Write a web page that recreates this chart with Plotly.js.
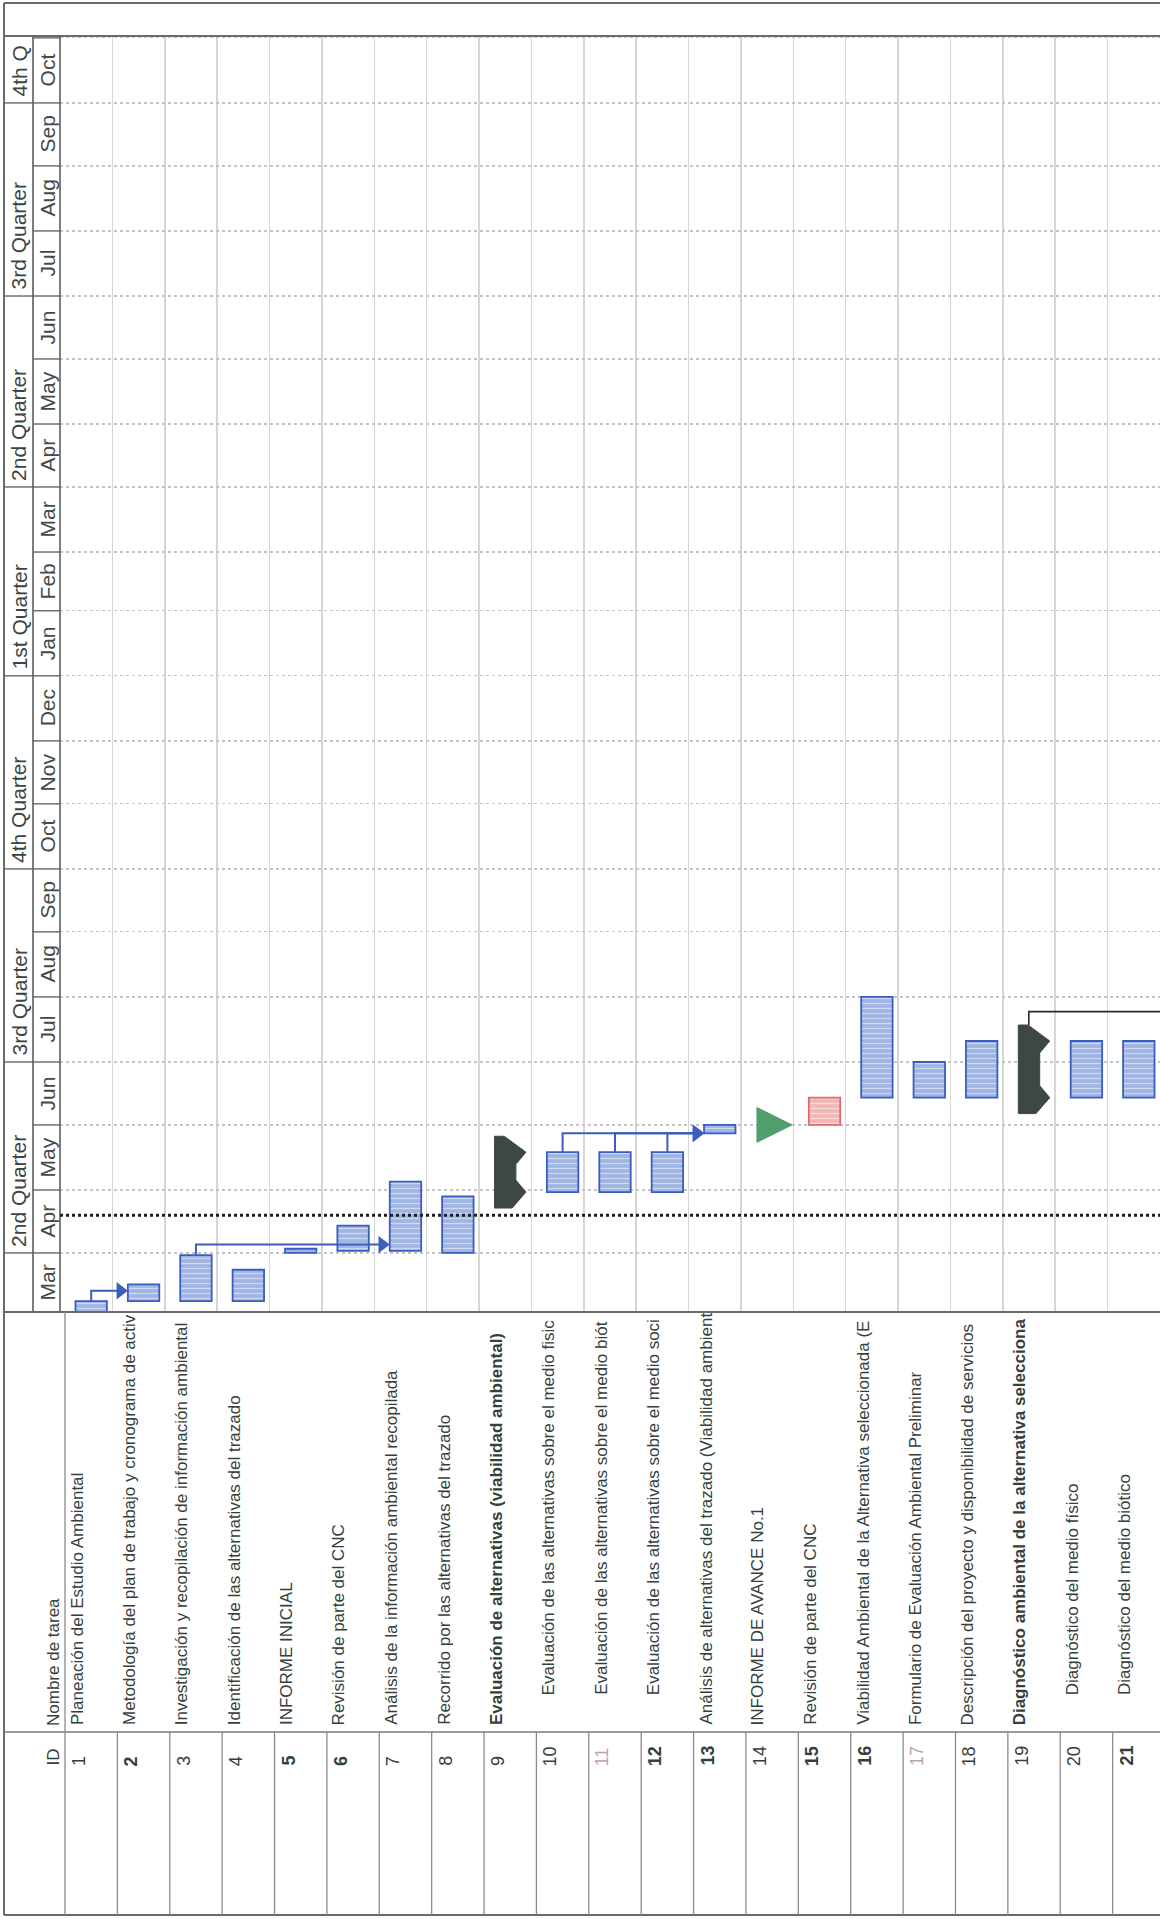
<!DOCTYPE html>
<html>
<head>
<meta charset="utf-8">
<script src="https://cdn.plot.ly/plotly-3.0.1.min.js"></script>
<style>
html,body{margin:0;padding:0;background:#ffffff;}
#chart{width:1160px;height:1919px;}
</style>
</head>
<body>
<div id="chart"></div>
<script>
// ---------------- DATA ----------------
const taskIds = [1,2,3,4,5,6,7,8,9,10,11,12,13,14,15,16,17,18,19,20,21];
const taskNames = [
  "Planeación del Estudio Ambiental",
  "Metodología del plan de trabajo y cronograma de activ",
  "Investigación y recopilación de información ambiental",
  "Identificación de las alternativas del trazado",
  "INFORME INICIAL",
  "Revisión de parte del CNC",
  "Análisis de la información ambiental recopilada",
  "Recorrido por las alternativas del trazado",
  "Evaluación de alternativas (viabilidad ambiental)",
  "Evaluación de las alternativas sobre el medio fisic",
  "Evaluación de las alternativas sobre el medio biót",
  "Evaluación de las alternativas sobre el medio soci",
  "Análisis de alternativas del trazado (Viabilidad ambient",
  "INFORME DE AVANCE No.1",
  "Revisión de parte del CNC",
  "Viabilidad Ambiental de la Alternativa seleccionada (E",
  "Formulario de Evaluación Ambiental Preliminar",
  "Descripción del proyecto y disponibilidad de servicios",
  "Diagnóstico ambiental de la alternativa selecciona",
  "Diagnóstico del medio físico",
  "Diagnóstico del medio biótico"
];
const taskIndent = [0,0,0,0,0,0,0,0,0,1,1,1,0,0,0,0,0,0,0,1,1];
const taskKind = ["task","task","task","task","task","task","task","task","summary",
                  "task","task","task","task","milestone","critical","task","task","task",
                  "summary","task","task"];
const taskStart = ["2014-03-01","2014-03-09","2014-03-09","2014-03-09","2014-04-01","2014-04-02",
                   "2014-04-02","2014-04-01","2014-04-30","2014-04-30","2014-04-30","2014-04-30",
                   "2014-05-28","2014-06-01","2014-06-01","2014-06-14","2014-06-14","2014-06-14",
                   "2014-06-14","2014-06-14","2014-06-14"];
const taskEnd   = ["2014-03-09","2014-03-17","2014-03-31","2014-03-24","2014-04-03","2014-04-14",
                   "2014-05-05","2014-04-28","2014-05-19","2014-05-19","2014-05-19","2014-05-19",
                   "2014-06-01","2014-06-01","2014-06-14","2014-08-01","2014-07-01","2014-07-11",
                   "2014-07-11","2014-07-11","2014-07-11"];
const boldNameIds = [9,19];
const boldIdIds = [2,5,6,12,13,15,16,21];
const fadedIdIds = [11,17];

const linkFrom = [1,3,10,11,12,19];
const linkTo   = [2,7,13,13,13,0];   // 0 = successor beyond the visible rows
const linkVia  = ["2014-03-14","2014-04-05","2014-05-28","2014-05-28","2014-05-28","2014-07-25"];

const statusDate = "2014-04-19";

const monthStarts = ["2014-03-01","2014-04-01","2014-05-01","2014-06-01","2014-07-01","2014-08-01",
                     "2014-09-01","2014-10-01","2014-11-01","2014-12-01","2015-01-01","2015-02-01",
                     "2015-03-01","2015-04-01","2015-05-01","2015-06-01","2015-07-01","2015-08-01",
                     "2015-09-01","2015-10-01","2015-11-01"];
const monthLabels = ["Mar","Apr","May","Jun","Jul","Aug","Sep","Oct","Nov","Dec",
                     "Jan","Feb","Mar","Apr","May","Jun","Jul","Aug","Sep","Oct"];
const quarterStarts = ["2014-01-01","2014-04-01","2014-07-01","2014-10-01","2015-01-01",
                       "2015-04-01","2015-07-01","2015-10-01","2016-01-01"];
const quarterLabels = ["","2nd Quarter","3rd Quarter","4th Quarter","1st Quarter",
                       "2nd Quarter","3rd Quarter","4th Q"];

const headerIdLabel = "ID";
const headerNameLabel = "Nombre de tarea";

// ---------------- GEOMETRY / STYLE ----------------
const W = 1160, H = 1919;
const PL = 60, PT = 36, PB = 1312;
const PW = W - PL, PH = PB - PT;
const NROWS = 21;
const PXU = PW / NROWS;
const X0 = 0.5 - 5 / PXU;
const xRange = [X0, X0 + NROWS];
const yRange = ["2014-03-03 20:36", "2015-11-01 21:36"];
const DAY = 86400000;
const FONT = "Liberation Sans, Arial, sans-serif";
const TXT = "#34403c";
const BAR_W = 0.6;
const NAME_BASE = 1727, ID_BASE = 1768, TABLE_SPLIT = 1732, TABLE_BOTTOM = 1915;

function ms(d){ return Date.parse(d.replace(" ","T") + (d.length===10 ? "T00:00:00Z" : ":00Z")); }
function pxX(px){ return (px - PL) / PW; }
function pxY(py){ return (PB - py) / PH; }
const r0 = ms(yRange[0]), r1 = ms(yRange[1]);

// ---------------- TRACES ----------------
const traces = [];
function barTrace(kind, fill, line, stripe){
  const idx = taskIds.map((id,i)=>i).filter(i=>taskKind[i]===kind);
  return {
    type:"bar", orientation:"v",
    x: idx.map(i=>taskIds[i]),
    base: idx.map(i=>taskStart[i]),
    y: idx.map(i=>ms(taskEnd[i]) - ms(taskStart[i])),
    width: BAR_W,
    marker:{color:fill, line:{color:line, width:1.8},
            pattern:{shape:"-", fgcolor:stripe, bgcolor:fill, size:5, solidity:0.25, fillmode:"replace"}},
    hoverinfo:"skip", showlegend:false
  };
}
traces.push(barTrace("task", "#9fb5e3", "#3a5dbf", "#cfdaf2"));
traces.push(barTrace("critical", "#f2b6b6", "#de6a6a", "#fbdcdc"));

// summary bars
const CAP = 7.6*DAY, NOTCH = 5.7*DAY;
const sx = [], sy = [];
taskIds.forEach((id,i)=>{
  if(taskKind[i]!=="summary") return;
  const s = ms(taskStart[i]), e = ms(taskEnd[i]);
  const L = id - BAR_W/2;
  const pts = [[L, e+CAP],[L+0.31*BAR_W, e+CAP],[L+BAR_W, e],[L+0.68*BAR_W, e-NOTCH],
               [L+0.68*BAR_W, s+NOTCH],[L+BAR_W, s],[L+0.56*BAR_W, s-CAP],[L, s-CAP],[L, e+CAP]];
  pts.forEach(p=>{ sx.push(p[0]); sy.push(p[1]); });
  sx.push(null); sy.push(null);
});
traces.push({type:"scatter", mode:"lines", x:sx, y:sy, fill:"toself", fillcolor:"#3d4845",
             line:{color:"#3d4845", width:1}, hoverinfo:"skip", showlegend:false});

// milestones
const mx = [], my = [];
const MH = 8.3*DAY;
taskIds.forEach((id,i)=>{
  if(taskKind[i]!=="milestone") return;
  const t = ms(taskStart[i]);
  [[id-0.29, t+MH],[id+0.38, t],[id-0.29, t-MH],[id-0.29, t+MH]].forEach(p=>{mx.push(p[0]); my.push(p[1]);});
  mx.push(null); my.push(null);
});
traces.push({type:"scatter", mode:"lines", x:mx, y:my, fill:"toself", fillcolor:"#4f9f6f",
             line:{color:"#4f9f6f", width:1}, hoverinfo:"skip", showlegend:false});

// links
const lx = [], ly = [], ax = [], ay = [], kx = [], ky = [];
const ARW = 7.5 / PXU;
linkFrom.forEach((f,k)=>{
  const i = taskIds.indexOf(f);
  const via = ms(linkVia[k]);
  if(linkTo[k] === 0){
    const top = ms(taskEnd[i]) + CAP;
    kx.push(f-0.1, f-0.1, NROWS+2, null);
    ky.push(top, via, via, null);
  } else {
    const endEdge = linkTo[k] - BAR_W/2;
    lx.push(f, f, endEdge - ARW, null);
    ly.push(ms(taskEnd[i]), via, via, null);
    ax.push(endEdge - ARW); ay.push(via);
  }
});
traces.push({type:"scatter", mode:"lines", x:lx, y:ly, line:{color:"#3a5dbf", width:2},
             hoverinfo:"skip", showlegend:false});
traces.push({type:"scatter", mode:"markers", x:ax, y:ay,
             marker:{symbol:"triangle-right", size:15, color:"#3a5dbf"},
             hoverinfo:"skip", showlegend:false});
traces.push({type:"scatter", mode:"lines", x:kx, y:ky, line:{color:"#2a2a2a", width:1.6},
             hoverinfo:"skip", showlegend:false});

// ---------------- SHAPES ----------------
const shapes = [];
const FR = "#6a6a6a";
function pline(x0,y0,x1,y1,color,width,dash){
  shapes.push({type:"line", xref:"paper", yref:"paper", x0:pxX(x0), y0:pxY(y0), x1:pxX(x1), y1:pxY(y1),
               line:{color:color, width:width, dash:dash||"solid"}, layer:"above"});
}
pline(4,3,W,3,FR,2);
pline(4,36,W,36,FR,2);
pline(4,3,4,TABLE_BOTTOM,FR,2);
pline(4,TABLE_BOTTOM,W,TABLE_BOTTOM,FR,2);
pline(33,36,33,PB,"#5c5c5c",1.6);
pline(60,36,60,PB,"#5c5c5c",1.6);
pline(4,PB,W,PB,FR,2);
pline(4,TABLE_SPLIT,W,TABLE_SPLIT,"#7a7a7a",1.5);
monthStarts.forEach(d=>{
  const t = ms(d);
  if(t<=r0 || t>=r1) return;
  shapes.push({type:"line", xref:"paper", yref:"y", x0:pxX(33), x1:pxX(60), y0:d, y1:d,
               line:{color:"#5c5c5c", width:1.3}, layer:"above"});
});
quarterStarts.forEach(d=>{
  const t = ms(d);
  if(t<=r0 || t>=r1) return;
  shapes.push({type:"line", xref:"paper", yref:"y", x0:pxX(4), x1:pxX(33), y0:d, y1:d,
               line:{color:"#5c5c5c", width:1.3}, layer:"above"});
});
for(let k=0;k<=NROWS;k++){
  const xv = k + 0.5;
  shapes.push({type:"line", xref:"x", yref:"paper", x0:xv, x1:xv,
               y0:pxY(k===0 ? PB : TABLE_SPLIT), y1:pxY(TABLE_BOTTOM),
               line:{color:"#8a8a8a", width:1.3}, layer:"above"});
}
shapes.push({type:"line", xref:"paper", yref:"y", x0:0, x1:1, y0:statusDate, y1:statusDate,
             line:{color:"#1e1e1e", width:3, dash:"dot"}, layer:"above"});

// ---------------- ANNOTATIONS ----------------
const annotations = [];
monthLabels.forEach((lab,i)=>{
  const a = Math.max(ms(monthStarts[i]), r0), b = Math.min(ms(monthStarts[i+1]), r1);
  annotations.push({xref:"paper", yref:"y", x:pxX(47), y:(a+b)/2, text:lab, textangle:-90,
    showarrow:false, xanchor:"center", yanchor:"middle",
    font:{family:FONT, size:21, color:"#3f4c47"}});
});
quarterLabels.forEach((lab,i)=>{
  if(!lab) return;
  const a = Math.max(ms(quarterStarts[i]), r0);
  annotations.push({xref:"paper", yref:"y", x:pxX(19), y:a, yshift:4, text:lab, textangle:-90,
    showarrow:false, xanchor:"center", yanchor:"bottom",
    font:{family:FONT, size:21, color:"#3a4541"}});
});
annotations.push({xref:"paper", yref:"paper", x:pxX(53), y:pxY(ID_BASE), text:headerIdLabel, textangle:-90,
  showarrow:false, xanchor:"center", yanchor:"bottom", font:{family:FONT, size:17, color:TXT}});
annotations.push({xref:"paper", yref:"paper", x:pxX(53), y:pxY(NAME_BASE+1), text:headerNameLabel, textangle:-90,
  showarrow:false, xanchor:"center", yanchor:"bottom", font:{family:FONT, size:17, color:TXT}});
taskIds.forEach((id,i)=>{
  const nm = boldNameIds.includes(id) ? "<b>"+taskNames[i]+"</b>" : taskNames[i];
  annotations.push({xref:"x", yref:"paper", x:id - 0.5 + 12/PXU, y:pxY(NAME_BASE - 30*taskIndent[i]),
    text:nm, textangle:-90, showarrow:false, xanchor:"center", yanchor:"bottom",
    font:{family:FONT, size:17, color:TXT}});
  const idTxt = boldIdIds.includes(id) ? "<b>"+id+"</b>" : String(id);
  annotations.push({xref:"x", yref:"paper", x:id - 0.5 + 14/PXU, y:pxY(ID_BASE),
    text:idTxt, textangle:-90, showarrow:false, xanchor:"center", yanchor:"bottom",
    font:{family:FONT, size:18, color: fadedIdIds.includes(id) ? "#b9a4ae" : TXT}});
});

// ---------------- LAYOUT ----------------
const tickBoundaries = [];
for(let k=1;k<NROWS;k++) tickBoundaries.push(X0 + k);

const layout = {
  width:W, height:H,
  margin:{l:PL, r:0, t:PT, b:H-PB, pad:0},
  paper_bgcolor:"#ffffff", plot_bgcolor:"#ffffff",
  showlegend:false, barmode:"overlay",
  xaxis:{range:xRange, tickmode:"array", tickvals:tickBoundaries, showticklabels:false,
         ticks:"", showgrid:true, gridcolor:"#d6d6d6", gridwidth:1.5, zeroline:false,
         showline:false, fixedrange:true},
  yaxis:{type:"date", range:yRange, tick0:"2014-03-01", dtick:"M1", showticklabels:false,
         ticks:"", showgrid:true, gridcolor:"#c4c4c4", gridwidth:1.2, griddash:"dot",
         zeroline:false, showline:false, fixedrange:true},
  shapes:shapes, annotations:annotations
};

Plotly.newPlot("chart", traces, layout, {displayModeBar:false, staticPlot:true});
</script>
</body>
</html>
